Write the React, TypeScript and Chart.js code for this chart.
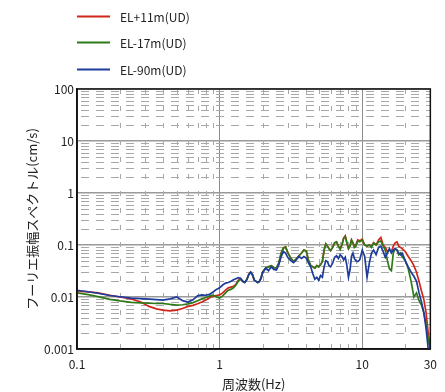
import React, { useEffect, useRef } from "react";
import { Chart, registerables } from "chart.js";

Chart.register(...registerables);

const freqs = [
  0.1, 0.12, 0.14, 0.17, 0.2, 0.24, 0.28, 0.32, 0.36, 0.4, 0.45, 0.5, 0.55, 0.6, 0.65, 0.7, 0.75, 0.8, 0.85, 0.9, 0.95, 1.0,
  1.05, 1.1, 1.15, 1.2, 1.25, 1.3, 1.35, 1.4, 1.45, 1.5, 1.55, 1.6, 1.65, 1.7, 1.75, 1.8, 1.85, 1.9, 1.95, 2.0,
  2.1, 2.2, 2.3, 2.4, 2.5, 2.6, 2.7, 2.8, 2.9, 3.0, 3.15, 3.3, 3.45, 3.6, 3.75, 3.9, 4.05, 4.2, 4.35, 4.5, 4.65, 4.8, 4.95,
  5.1, 5.25, 5.4, 5.55, 5.7, 5.85, 6.0, 6.2, 6.4, 6.6, 6.8, 7.0, 7.2, 7.4, 7.6, 7.8, 8.0, 8.2, 8.4, 8.6, 8.8, 9.0, 9.3, 9.6,
  10, 10.4, 10.8, 11.2, 11.6, 12.0, 12.5, 13.0, 13.5, 14.0, 14.5, 15.0, 15.5, 16.0, 16.5, 17.0, 17.5, 18.0, 18.5, 19.0, 19.5,
  20, 21, 22, 23, 24, 25, 26, 27, 28, 29, 30,
];

const redEL11 = [
  0.013, 0.0126, 0.012, 0.0108, 0.01, 0.0092, 0.008, 0.0066, 0.0059, 0.0056, 0.0054, 0.0056, 0.006, 0.0066, 0.0069, 0.0074, 0.008, 0.0088, 0.0097, 0.0104, 0.0107, 0.011,
  0.012, 0.0135, 0.015, 0.0155, 0.016, 0.0175, 0.021, 0.0225, 0.02, 0.019, 0.0215, 0.027, 0.03, 0.0265, 0.021, 0.02, 0.019, 0.02, 0.023, 0.03,
  0.036, 0.038, 0.04, 0.037, 0.036, 0.045, 0.07, 0.088, 0.092, 0.072, 0.056, 0.048, 0.054, 0.062, 0.07, 0.08, 0.076, 0.05, 0.04, 0.038, 0.036, 0.04, 0.038,
  0.042, 0.048, 0.08, 0.105, 0.095, 0.085, 0.078, 0.09, 0.11, 0.115, 0.095, 0.085, 0.1, 0.135, 0.15, 0.11, 0.085, 0.095, 0.125, 0.11, 0.095, 0.1, 0.125, 0.12,
  0.13, 0.1, 0.095, 0.1, 0.095, 0.11, 0.1, 0.125, 0.14, 0.1, 0.09, 0.075, 0.08, 0.075, 0.095, 0.11, 0.115, 0.095, 0.09, 0.085, 0.08,
  0.075, 0.06, 0.05, 0.04, 0.03, 0.02, 0.013, 0.009, 0.005, 0.002, 0.001,
];

const greenEL17 = [
  0.012, 0.0111, 0.0102, 0.009, 0.0084, 0.0079, 0.0077, 0.0076, 0.0075, 0.0075, 0.0072, 0.007, 0.0071, 0.0074, 0.0078, 0.0085, 0.0092, 0.0098, 0.0104, 0.0108, 0.01, 0.0095,
  0.0105, 0.012, 0.0135, 0.014, 0.015, 0.017, 0.02, 0.022, 0.02, 0.019, 0.0215, 0.027, 0.03, 0.0265, 0.021, 0.02, 0.019, 0.02, 0.023, 0.03,
  0.036, 0.038, 0.04, 0.037, 0.036, 0.045, 0.07, 0.088, 0.092, 0.072, 0.056, 0.048, 0.054, 0.062, 0.07, 0.08, 0.076, 0.05, 0.04, 0.038, 0.036, 0.04, 0.038,
  0.042, 0.048, 0.08, 0.105, 0.095, 0.085, 0.078, 0.09, 0.11, 0.115, 0.095, 0.082, 0.1, 0.135, 0.145, 0.11, 0.085, 0.095, 0.125, 0.11, 0.09, 0.095, 0.12, 0.115,
  0.125, 0.1, 0.095, 0.1, 0.09, 0.11, 0.1, 0.115, 0.12, 0.095, 0.08, 0.05, 0.035, 0.032, 0.07, 0.085, 0.08, 0.065, 0.07, 0.06, 0.055,
  0.05, 0.035, 0.02, 0.01, 0.012, 0.0085, 0.007, 0.005, 0.003, 0.0015, 0.001,
];

const blueEL90 = [
  0.0135, 0.0126, 0.0118, 0.0107, 0.0101, 0.0095, 0.0093, 0.0091, 0.0089, 0.0087, 0.0092, 0.01, 0.0085, 0.008, 0.0088, 0.0105, 0.011, 0.0108, 0.0112, 0.0125, 0.014, 0.015,
  0.017, 0.0185, 0.019, 0.02, 0.0215, 0.0225, 0.0235, 0.023, 0.02, 0.019, 0.0215, 0.027, 0.03, 0.027, 0.021, 0.02, 0.019, 0.02, 0.023, 0.029,
  0.036, 0.032, 0.038, 0.034, 0.033, 0.042, 0.06, 0.075, 0.07, 0.058, 0.05, 0.046, 0.052, 0.06, 0.055, 0.06, 0.056, 0.045, 0.038, 0.028, 0.022, 0.024, 0.021,
  0.026, 0.024, 0.038, 0.05, 0.048, 0.04, 0.038, 0.045, 0.058, 0.062, 0.055, 0.065, 0.06, 0.052, 0.058, 0.04, 0.024, 0.033, 0.06, 0.07, 0.055, 0.05, 0.048, 0.052,
  0.08, 0.06, 0.024, 0.045, 0.07, 0.08, 0.065, 0.09, 0.095, 0.075, 0.058, 0.07, 0.085, 0.07, 0.08, 0.085, 0.08, 0.07, 0.065, 0.07, 0.06,
  0.05, 0.038, 0.03, 0.025, 0.02, 0.012, 0.008, 0.005, 0.0025, 0.001, 0.001,
];

const seriesLabels = ["EL+11m(UD)", "EL-17m(UD)", "EL-90m(UD)"];
const seriesColors = ["#d2261b", "#2f7a18", "#1d3c9c"];

const xTickValues = [0.1, 1, 10, 30];
const xTickLabels = ["0.1", "1", "10", "30"];
const yTickValues = [0.001, 0.01, 0.1, 1, 10, 100];
const yTickLabels = ["0.001", "0.01", "0.1", "1", "10", "100"];

const xTitle = "周波数(Hz)";
const yTitle = "フーリエ振幅スペクトル(cm/s)";

const FONT = "'Noto Sans CJK JP', 'Noto Sans', sans-serif";

const minorGridPlugin = {
  id: "minorGrid",
  beforeDatasetsDraw(chart: any) {
    const { ctx, chartArea } = chart;
    const xs = chart.scales.x;
    const ys = chart.scales.y;
    ctx.save();
    ctx.strokeStyle = "#a8a8a8";
    ctx.lineWidth = 1;
    // horizontal minor dashed
    ctx.setLineDash([8, 7]);
    for (let d = 0.001; d < 100; d *= 10) {
      for (let m = 2; m <= 9; m++) {
        const y = Math.round(ys.getPixelForValue(m * d)) + 0.5;
        ctx.beginPath();
        ctx.moveTo(chartArea.left + 4, y);
        ctx.lineTo(chartArea.right, y);
        ctx.stroke();
      }
    }
    // vertical minor dashed
    ctx.setLineDash([5, 12]);
    ctx.lineDashOffset = 0;
    for (let d = 0.1; d < 30; d *= 10) {
      for (let m = 2; m <= 9; m++) {
        const v = m * d;
        if (v >= 30) break;
        const x = Math.round(xs.getPixelForValue(v)) + 0.5;
        ctx.beginPath();
        ctx.moveTo(x, chartArea.bottom);
        ctx.lineTo(x, chartArea.top);
        ctx.stroke();
      }
    }
    ctx.restore();
  },
  afterDatasetsDraw(chart: any) {
    const { ctx, chartArea } = chart;
    ctx.save();
    ctx.strokeStyle = "#111";
    ctx.lineWidth = 1.5;
    ctx.setLineDash([]);
    ctx.strokeRect(chartArea.left, chartArea.top, chartArea.right - chartArea.left, chartArea.bottom - chartArea.top);
    ctx.restore();
  },
  afterDraw(chart: any) {
    const { ctx } = chart;
    const rows = [16, 42, 69];
    ctx.save();
    chart.data.datasets.forEach((ds: any, i: number) => {
      const y = rows[i];
      ctx.strokeStyle = ds.borderColor;
      ctx.lineWidth = 2;
      ctx.beginPath();
      ctx.moveTo(77, y + 0.5);
      ctx.lineTo(110, y + 0.5);
      ctx.stroke();
      ctx.fillStyle = "#222";
      ctx.font = `12px ${FONT}`;
      ctx.textBaseline = "middle";
      ctx.textAlign = "left";
      ctx.fillText(ds.label, 120, y + 1);
    });
    ctx.restore();
  },
};

export default function App() {
  const ref = useRef<HTMLCanvasElement>(null);
  useEffect(() => {
    if (!ref.current) return;
    const mk = (vals: number[]) => freqs.map((f, i) => ({ x: f, y: vals[i] }));
    const allVals = [redEL11, greenEL17, blueEL90];
    const chart = new Chart(ref.current, {
      type: "line",
      data: {
        datasets: allVals.map((vals, i) => ({
          label: seriesLabels[i],
          data: mk(vals),
          borderColor: seriesColors[i],
          backgroundColor: seriesColors[i],
          borderWidth: 1.7,
          pointRadius: 0,
          tension: 0,
          order: 2 - i,
        })),
      },
      options: {
        responsive: false,
        animation: false,
        events: [],
        layout: { padding: { left: 24, right: 11, top: 89, bottom: 0 } },
        plugins: { legend: { display: false }, tooltip: { enabled: false } },
        scales: {
          x: {
            type: "logarithmic",
            min: 0.1,
            max: 30,
            afterBuildTicks: (s: any) => {
              s.ticks = xTickValues.map((v) => ({ value: v }));
            },
            afterFit: (s: any) => {
              s.height = 43;
            },
            ticks: {
              autoSkip: false,
              maxRotation: 0,
              padding: 8,
              color: "#222",
              font: { family: FONT, size: 12 },
              callback: (v: any) => {
                const i = xTickValues.findIndex((t) => Math.abs(t - v) < 1e-9);
                return i >= 0 ? xTickLabels[i] : "";
              },
            },
            grid: { color: "#8c8c8c", lineWidth: 1, drawTicks: false },
            border: { color: "#111", width: 1.5 },
            title: {
              display: true,
              text: xTitle,
              color: "#222",
              font: { family: FONT, size: 13 },
              padding: { top: 0, bottom: 0 },
            },
          },
          y: {
            type: "logarithmic",
            min: 0.001,
            max: 100,
            afterBuildTicks: (s: any) => {
              s.ticks = yTickValues.map((v) => ({ value: v }));
            },
            afterFit: (s: any) => {
              s.width = 53;
            },
            ticks: {
              autoSkip: false,
              padding: 3,
              color: "#222",
              font: { family: FONT, size: 12 },
              callback: (v: any) => {
                const i = yTickValues.findIndex((t) => Math.abs(t - v) / t < 1e-6);
                return i >= 0 ? yTickLabels[i] : "";
              },
            },
            grid: { color: "#9a9a9a", lineWidth: 1.6, drawTicks: false },
            border: { color: "#111", width: 1.5 },
            title: {
              display: true,
              text: yTitle,
              color: "#222",
              font: { family: FONT, size: 13 },
              padding: { top: 0, bottom: 0 },
            },
          },
        },
      },
      plugins: [minorGridPlugin],
    });
    return () => chart.destroy();
  }, []);
  return (
    <div style={{ position: "fixed", left: 0, top: 0, width: 445, height: 392, background: "#fff" }}>
      <canvas ref={ref} width={445} height={392} />
    </div>
  );
}
